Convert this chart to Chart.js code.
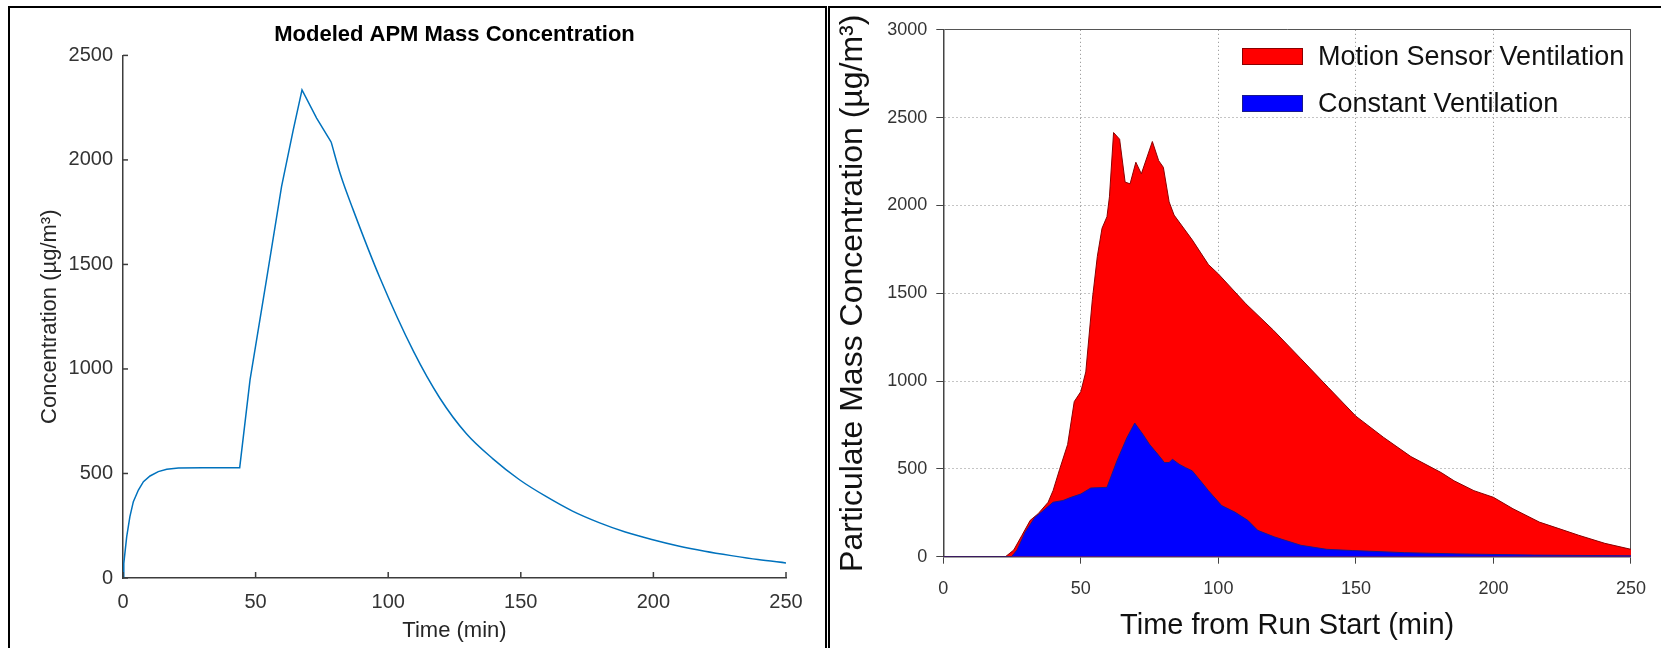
<!DOCTYPE html>
<html>
<head>
<meta charset="utf-8">
<script src="https://cdn.jsdelivr.net/npm/chart.js@4.4.1/dist/chart.umd.min.js"></script>
<style>
  html, body { margin: 0; padding: 0; background: #fff; }
  body { width: 1661px; height: 648px; overflow: hidden; position: relative; font-family: "Liberation Sans", Arial, sans-serif; }
  .frame { position: absolute; border: 2px solid #000; border-bottom: none; box-sizing: border-box; }
  #frame-left { left: 8px; top: 6px; width: 819px; height: 660px; }
  #frame-right { left: 828px; top: 6px; width: 900px; height: 660px; border-right: none; }
  canvas { position: absolute; }
  #model-chart { left: 12px; top: 10px; }
  #run-chart { left: 832px; top: 10px; }
  #legend { position: absolute; left: 1242px; top: 0; }
  .legend-item { position: absolute; left: 0; height: 34px; display: flex; align-items: center; white-space: nowrap; font-size: 27px; color: #111; }
  .legend-box { width: 59px; height: 15px; margin-right: 15px; border: 1px solid; }
</style>
</head>
<body>
<div class="frame" id="frame-left"></div>
<div class="frame" id="frame-right"></div>
<canvas id="model-chart" width="812" height="638"></canvas>
<canvas id="run-chart" width="829" height="638"></canvas>
<div id="legend"></div>

<script>
// Left panel: modeled curve (min, ug/m3), rise part is piecewise, decay is smooth
const riseTime = [0, 0.3, 1.4, 2.6, 3.9, 5.8, 7.7, 10.2, 13.3, 16.5, 20.9, 30, 44,
    47.9, 54.2, 59.8, 64.2, 67.5, 73, 78.5];
const riseConc = [0, 70, 198, 294, 365, 421, 461, 488, 509, 520, 526, 528, 528,
    948, 1435, 1873, 2144, 2335, 2200, 2085];
const decayTime = [78.5, 82, 86.8, 96.9, 109.5, 119.5, 129.5, 139.5, 149.5, 159.5,
    169.5, 179.5, 189.4, 199.4, 209.4, 219.4, 229.4, 239.4, 250];
const decayConc = [2085, 1930, 1761, 1435, 1085, 860, 690, 570, 470, 390,
    320, 265, 220, 184, 153, 128, 107, 88, 72];
const modelTitle = "Modeled APM Mass Concentration";

// Right panel: measured runs
const motionTime = [0, 22.6, 25.6, 28.6, 31.6, 34.5, 38.1, 39.9, 42.3, 45.2, 47.6, 50,
    51.8, 54.2, 56, 57.7, 59.5, 60.4, 61.9, 64.1, 66.1, 67.9, 70, 72, 76, 78.3, 80,
    82.1, 83.9, 90.5, 96.4, 100, 110, 120, 130, 140, 150, 160, 170, 181, 185.7,
    192.9, 200, 207.1, 216.7, 223.8, 231, 240.5, 250];
const motionConc = [0, 0, 38, 122, 207, 245, 310, 376, 498, 639, 883, 940,
    1052, 1466, 1710, 1870, 1936, 2049, 2415, 2377, 2133, 2123, 2246, 2180, 2364, 2255, 2217,
    2020, 1945, 1804, 1663, 1610, 1440, 1290, 1127, 963, 800, 680, 570, 479, 432,
    376, 338, 273, 197, 160, 122, 76, 42];
const constTime = [0, 24.8, 26.8, 29.8, 33.4, 35.7, 39.9, 43.5, 46.4, 50, 53.6, 59.5,
    63.1, 66.7, 69.6, 72.6, 75, 78, 80.4, 82.1, 83.3, 85.7, 88.1, 90.5, 93.5, 96.4,
    101.2, 106, 110.7, 114.3, 120.3, 130, 139.4, 148.8, 167.7, 186.7, 215, 250];
const constConc = [0, 0, 38, 141, 226, 254, 310, 320, 338, 357, 391, 395,
    545, 676, 761, 696, 639, 583, 536, 536, 555, 527, 507, 489, 432, 376,
    291, 254, 207, 150, 113, 65, 42, 35, 23, 16, 9, 5];

const timeTicks = [0, 50, 100, 150, 200, 250];
const modelTicks = [0, 500, 1000, 1500, 2000, 2500];
const runTicks = [0, 500, 1000, 1500, 2000, 2500, 3000];

Chart.defaults.font.family = "'Liberation Sans', Arial, sans-serif";
Chart.defaults.animation = false;

const toPoints = (xs, ys) => xs.map((x, i) => ({ x, y: ys[i] }));
const setTicks = list => scale => { scale.ticks = list.map(v => ({ value: v })); };
const plainLabel = v => String(v);

// MATLAB style ticks pointing into the axes
const innerTicks = {
    id: "innerTicks",
    afterDraw(chart) {
        const { ctx, chartArea, scales: { x, y } } = chart;
        ctx.save();
        ctx.strokeStyle = "#3c3c3c";
        ctx.lineWidth = 1.5;
        x.ticks.forEach(t => {
            const px = x.getPixelForValue(t.value);
            ctx.beginPath(); ctx.moveTo(px, chartArea.bottom); ctx.lineTo(px, chartArea.bottom - 6); ctx.stroke();
        });
        y.ticks.forEach(t => {
            const py = y.getPixelForValue(t.value);
            ctx.beginPath(); ctx.moveTo(chartArea.left, py); ctx.lineTo(chartArea.left + 5, py); ctx.stroke();
        });
        ctx.restore();
    }
};

const modelLine = { borderColor: "#0072BD", borderWidth: 1.5, pointRadius: 0, fill: false };

new Chart(document.querySelector("#model-chart"), {
    type: "line",
    data: {
        datasets: [
            { ...modelLine, data: toPoints(riseTime, riseConc), tension: 0 },
            { ...modelLine, data: toPoints(decayTime, decayConc), cubicInterpolationMode: "monotone" }
        ]
    },
    options: {
        responsive: false,
        layout: { padding: { top: 0, right: 38, bottom: 0, left: 0 } },
        plugins: {
            legend: { display: false },
            tooltip: { enabled: false },
            title: {
                display: true, text: modelTitle, fullSize: false, color: "#000",
                font: { size: 22, weight: "bold" }, padding: { top: 12, bottom: 7 }
            }
        },
        scales: {
            x: {
                type: "linear", min: 0, max: 250,
                afterBuildTicks: setTicks(timeTicks),
                afterFit: s => { s.height = 70; },
                ticks: { color: "#333", font: { size: 20 }, padding: 12, callback: plainLabel },
                grid: { drawOnChartArea: false, drawTicks: false },
                border: { color: "#3c3c3c", width: 1.5 },
                title: { display: true, text: "Time (min)", color: "#262626", font: { size: 22 }, padding: { top: 0, bottom: 4 } }
            },
            y: {
                type: "linear", min: 0, max: 2500,
                afterBuildTicks: setTicks(modelTicks),
                afterFit: s => { s.width = 111; },
                ticks: { color: "#333", font: { size: 20 }, padding: 10, callback: plainLabel },
                grid: { drawOnChartArea: false, drawTicks: false },
                border: { color: "#3c3c3c", width: 1.5 },
                title: { display: true, text: "Concentration (µg/m³)", color: "#262626", font: { size: 22 }, padding: { top: 25, bottom: 0 } }
            }
        }
    },
    plugins: [innerTicks]
});

const gridColor = edge => c => {
    if (!c.tick) return "#888";
    if (c.tick.value === 0) return "rgba(0,0,0,0)";
    return c.tick.value === edge ? "#555" : "#8a8a8a";
};
const gridDash = edge => c => (c.tick && c.tick.value === edge) ? [] : [1, 3];

const runChart = new Chart(document.querySelector("#run-chart"), {
    type: "line",
    data: {
        datasets: [
            {
                label: "Motion Sensor Ventilation",
                data: toPoints(motionTime, motionConc),
                backgroundColor: "#ff0000", borderColor: "#8b0000", borderWidth: 1,
                pointRadius: 0, tension: 0, fill: "origin", order: 2
            },
            {
                label: "Constant Ventilation",
                data: toPoints(constTime, constConc),
                backgroundColor: "#0000ff", borderColor: "#1a1a8c", borderWidth: 1,
                pointRadius: 0, tension: 0, fill: "origin", order: 1
            }
        ]
    },
    options: {
        responsive: false,
        layout: { padding: { top: 14.5, right: 17, bottom: 0, left: 0 } },
        plugins: { legend: { display: false }, tooltip: { enabled: false } },
        scales: {
            x: {
                type: "linear", min: 0, max: 250,
                afterBuildTicks: setTicks(timeTicks),
                afterFit: s => { s.height = 91.3; },
                ticks: { color: "#333", font: { size: 18 }, padding: 15, callback: plainLabel },
                grid: { color: gridColor(250), tickColor: "#444", tickLength: 7, tickBorderDash: [] },
                border: { color: "#444", width: 1.5, dash: gridDash(250) },
                title: { display: true, text: "Time from Run Start (min)", color: "#111", font: { size: 29 }, padding: { top: 0, bottom: 5 } }
            },
            y: {
                type: "linear", min: 0, max: 3000,
                afterBuildTicks: setTicks(runTicks),
                afterFit: s => { s.width = 111.3; },
                ticks: { color: "#333", font: { size: 18 }, padding: 9, callback: plainLabel },
                grid: { color: gridColor(3000), tickColor: "#444", tickLength: 7, tickBorderDash: [] },
                border: { color: "#444", width: 1.5, dash: gridDash(3000) },
                title: { display: true, text: "Particulate Mass Concentration (µg/m³)", color: "#111", font: { size: 32 }, padding: { top: 2, bottom: 0 } }
            }
        }
    }
});

// Legend boxes in the top right of the right panel
const legendRows = [56, 103];
runChart.data.datasets.forEach((ds, i) => {
    const item = document.createElement("div");
    item.className = "legend-item";
    item.style.top = (legendRows[i] - 17) + "px";
    const box = document.createElement("span");
    box.className = "legend-box";
    box.style.background = ds.backgroundColor;
    box.style.borderColor = ds.borderColor;
    item.appendChild(box);
    item.appendChild(document.createTextNode(ds.label));
    document.querySelector("#legend").appendChild(item);
});
</script>
</body>
</html>
